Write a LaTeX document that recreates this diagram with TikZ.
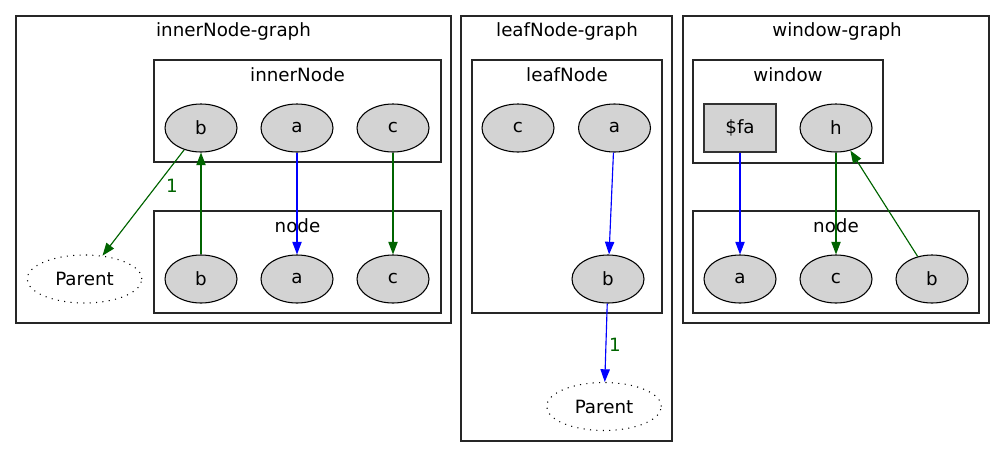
\documentclass[tikz,border=0pt]{standalone}
\usepackage{fontspec}
\setmainfont{DejaVu Sans}
\usetikzlibrary{shapes.geometric,arrows.meta}
\definecolor{dgreen}{HTML}{006400}
\definecolor{nodegray}{HTML}{D3D3D3}
\tikzset{
  every node/.style={font=\fontsize{13.7pt}{16pt}\selectfont, inner sep=0pt},
  gnode/.style={ellipse, draw=black, fill=nodegray, line width=0.8pt, minimum width=54pt, minimum height=36pt},
  gbox/.style={rectangle, draw=black!80, fill=nodegray, line width=1pt, minimum width=54pt, minimum height=36pt},
  pnode/.style={ellipse, draw=black, line width=0.8pt, dash pattern=on 0.8pt off 4pt, minimum width=86pt, minimum height=36pt},
  cluster/.style={draw=black!85, line width=0.9pt},
  ctitle/.style={anchor=center},
  conn/.style={line width=0.85pt, -{Triangle[length=9.5pt,width=7pt]}},
  cblue/.style={conn, draw=blue, fill=blue},
  cgreen/.style={conn, draw=dgreen, fill=dgreen},
  elabel/.style={text=dgreen}
}
\begin{document}
\begin{tikzpicture}[x=0.75pt, y=-0.75pt]
\useasboundingbox (0,0) rectangle (1005,468);
\fill[white] (0,0) rectangle (1005,468);

% ---------- innerNode-graph ----------
\draw[cluster] (16,16) rectangle (451,323);
\node[ctitle] (t1) at (233.5,31) {innerNode-graph};
\draw[cluster] (154,60) rectangle (441,162);
\node[ctitle] (t1a) at (297.5,75) {innerNode};
\draw[cluster] (154,211) rectangle (441,313);
\node[ctitle] (t1b) at (297.5,226) {node};

\node[gnode] (ib) at (201,128) {b};
\node[gnode] (ia) at (297,128) {a};
\node[gnode] (ic) at (393,128) {c};
\node[gnode] (nb) at (201,279) {b};
\node[gnode] (na) at (297,279) {a};
\node[gnode] (nc) at (393,279) {c};
\node[pnode] (p1) at (84.5,279) {Parent};

\draw[cgreen] (ib) -- (p1);
\node[elabel] (l1) at (172,186) {1};
\draw[cgreen] (nb) -- (ib);
\draw[cblue] (ia) -- (na);
\draw[cgreen] (ic) -- (nc);

% ---------- leafNode-graph ----------
\draw[cluster] (461,16) rectangle (672,441);
\node[ctitle] (t2) at (567,31) {leafNode-graph};
\draw[cluster] (472,60) rectangle (662,313);
\node[ctitle] (t2a) at (567,75) {leafNode};

\node[gnode] (lc) at (518,128) {c};
\node[gnode] (la) at (614.5,128) {a};
\node[gnode] (lb) at (608,279) {b};
\node[pnode] (p2) at (604,406.5) {Parent};

\draw[cblue] (la) -- (lb);
\draw[cblue] (lb) -- (p2);
\node[elabel] (l2) at (615,345) {1};

% ---------- window-graph ----------
\draw[cluster] (683,16) rectangle (989,323);
\node[ctitle] (t3) at (837,31) {window-graph};
\draw[cluster] (693,60) rectangle (883,163);
\node[ctitle] (t3a) at (788,75) {window};
\draw[cluster] (693,211) rectangle (979,313);
\node[ctitle] (t3b) at (836,226) {node};

\node[gbox] (fa) at (740,128) {\$fa};
\node[gnode] (h) at (836,128) {h};
\node[gnode] (wa) at (740,279) {a};
\node[gnode] (wc) at (836,279) {c};
\node[gnode] (wb) at (932,279) {b};

\draw[cblue] (fa) -- (wa);
\draw[cgreen] (h) -- (wc);
\draw[cgreen] (wb) -- (h);
\end{tikzpicture}
\end{document}
